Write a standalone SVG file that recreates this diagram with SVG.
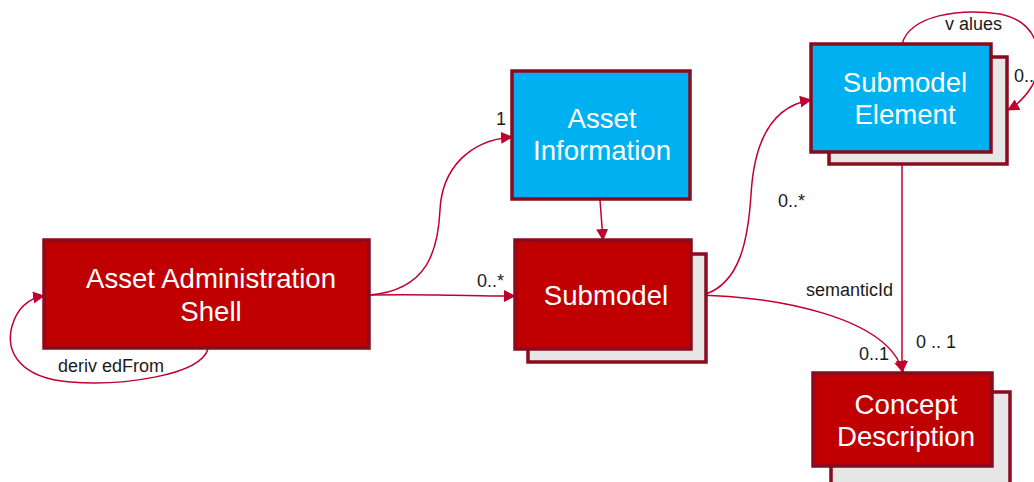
<svg xmlns="http://www.w3.org/2000/svg" width="1034" height="482" viewBox="0 0 1034 482">
  <defs>
    <marker id="arrow" viewBox="0 0 12 12" refX="11" refY="6" markerWidth="12" markerHeight="12" markerUnits="userSpaceOnUse" orient="auto">
      <path d="M0,0 L12,6 L0,12 Z" fill="#C0002F"/>
    </marker>
  </defs>
  <style>
    .red { fill: #C00000; stroke: #8A0A1E; stroke-width: 3.5; }
    .blue { fill: #00B0F0; stroke: #8A0A1E; stroke-width: 3.5; }
    .shadow { fill: #E6E6E6; stroke: #8A0A1E; stroke-width: 3.5; }
    .title { font-family: "Liberation Sans", Arial, sans-serif; font-size: 27.6px; fill: #FFFFFF; text-anchor: middle; }
    .lbl { font-family: "Liberation Sans", Arial, sans-serif; font-size: 18px; fill: #1A1A1A; }
    .conn { fill: none; stroke: #C0002F; stroke-width: 1.5; }
  </style>
  <rect width="1034" height="482" fill="#FFFFFF"/>

  <!-- connectors -->
  <g id="connectors">
    <path class="conn" marker-end="url(#arrow)" d="M208,349 C200,376 120,386 70,382 C20,378 5,352 12,326 C18,306 30,298 44,296"/>
    <path class="conn" marker-end="url(#arrow)" d="M370,295 C440,294 470,296 515,296"/>
    <path class="conn" marker-end="url(#arrow)" d="M370,295 C428,290 438,250 440,210 C442,168 470,140 512,137"/>
    <path class="conn" marker-end="url(#arrow)" d="M600,200 L603,240"/>
    <path class="conn" marker-end="url(#arrow)" d="M706,294 C740,282 748,240 751,195 C754,140 772,106 811,100"/>
    <path class="conn" marker-end="url(#arrow)" d="M691,295 C780,296 888,318 903,372"/>
    <path class="conn" marker-end="url(#arrow)" d="M902,152 L902,372"/>
    <path class="conn" marker-end="url(#arrow)" d="M902,44 C910,15 960,8 1000,14 C1040,22 1046,60 1032,86 C1024,99 1017,105 1008,110"/>
    <text class="lbl" x="58" y="372">deriv edFrom</text>
    <text class="lbl" x="477" y="287">0..*</text>
    <text class="lbl" x="496" y="125">1</text>
    <text class="lbl" x="778" y="207">0..*</text>
    <text class="lbl" x="806" y="296">semanticId</text>
    <text class="lbl" x="859" y="360">0..1</text>
    <text class="lbl" x="916" y="348">0 .. 1</text>
    <text class="lbl" x="945" y="30">v alues</text>
    <text class="lbl" x="1014" y="82">0..</text>
  </g>

  <g id="asset-administration-shell">
    <rect class="red" x="44" y="240" width="325" height="108"/>
    <text class="title" x="211" y="288">Asset Administration</text>
    <text class="title" x="211" y="321">Shell</text>
  </g>

  <g id="asset-information">
    <rect class="blue" x="512" y="71" width="178" height="128"/>
    <text class="title" x="602" y="128">Asset</text>
    <text class="title" x="602" y="160">Information</text>
  </g>

  <g id="submodel">
    <rect class="shadow" x="528" y="254" width="178" height="108"/>
    <rect class="red" x="515" y="240" width="176" height="109"/>
    <text class="title" x="606" y="305">Submodel</text>
  </g>

  <g id="submodel-element">
    <rect class="shadow" x="829" y="57" width="178" height="107"/>
    <rect class="blue" x="811" y="44" width="180" height="108"/>
    <text class="title" x="905" y="92">Submodel</text>
    <text class="title" x="905" y="124">Element</text>
  </g>

  <g id="concept-description">
    <rect class="shadow" x="831" y="392" width="179" height="100"/>
    <rect class="red" x="813" y="373" width="179" height="93"/>
    <text class="title" x="906" y="414">Concept</text>
    <text class="title" x="906" y="446">Description</text>
  </g>
</svg>
